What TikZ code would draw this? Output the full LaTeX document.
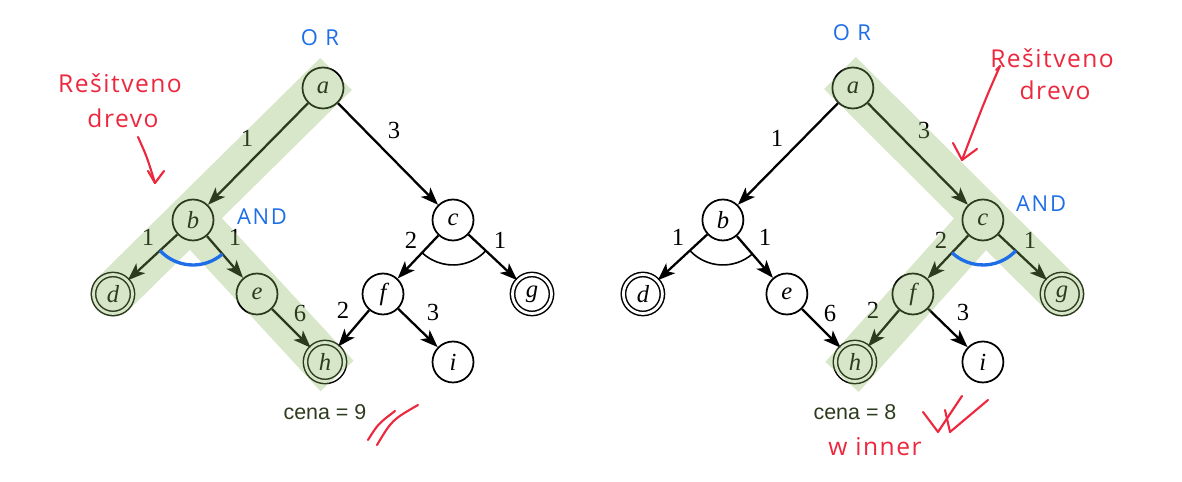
\documentclass[tikz,border=0pt]{standalone}
\usepackage{fontspec}
\setmainfont{Liberation Serif}
\newfontfamily\cenafont{Liberation Sans}
\newfontfamily\handfont{Open Sans}
\usetikzlibrary{arrows.meta,calc}
\definecolor{bandgreen}{RGB}{136,182,91}
\definecolor{penred}{RGB}{236,40,62}
\definecolor{penblue}{RGB}{30,110,232}
\definecolor{olive}{RGB}{45,60,30}

% one AND-OR search tree: nodes, weighted arcs and their costs
\newcommand{\searchtree}{%
  \node[state] (a) at (323,394) {a};
  \node[state] (b) at (193,262) {b};
  \node[state] (c) at (453,262) {c};
  \node[goal]  (d) at (113,188) {d};
  \node[state] (e) at (257,188) {e};
  \node[state] (f) at (383,188) {f};
  \node[goal]  (g) at (532,188) {g};
  \node[goal]  (h) at (325,120) {h};
  \node[state] (i) at (453,120) {i};
  \draw[edge] (a) -- (b);
  \draw[edge] (a) -- (c);
  \draw[edge] (b) -- (d);
  \draw[edge] (b) -- (e);
  \draw[edge] (c) -- (f);
  \draw[edge] (c) -- (g);
  \draw[edge] (e) -- (h);
  \draw[edge] (f) -- (h);
  \draw[edge] (f) -- (i);
  \node[cost] (wab) at (247,344) {1};
  \node[cost] (wac) at (394,352) {3};
  \node[cost] (wbd) at (148,245) {1};
  \node[cost] (wbe) at (235,245) {1};
  \node[cost] (wcf) at (411,242) {2};
  \node[cost] (wcg) at (500,242) {1};
  \node[cost] (weh) at (300,169) {6};
  \node[cost] (wfh) at (343,172) {2};
  \node[cost] (wfi) at (433,170) {3};
}

\begin{document}
\begin{tikzpicture}[x=0.02cm,y=0.02cm,
  state/.style={circle,draw,line width=1pt,minimum size=0.82cm,inner sep=0pt,
    fill=white,font=\fontsize{14}{16}\selectfont\itshape},
  goal/.style={state,double,double distance=1.6pt,line width=0.85pt,minimum size=0.78cm},
  edge/.style={line width=1.3pt,-{Stealth[length=10pt,width=7.5pt,inset=2.6pt]}},
  cost/.style={font=\fontsize{14}{16}\selectfont,inner sep=0pt},
  andarc/.style={line width=0.9pt},
  andmark/.style={line width=1.9pt,penblue},
  band/.style={fill=bandgreen,fill opacity=0.33},
  hand/.style={penred,inner sep=0pt,font=\handfont\fontsize{14}{16}\selectfont\addfontfeature{LetterSpace=6}},
  pen/.style={penred,line width=1.2pt,line cap=round,line join=round},
  bluehand/.style={penblue,inner sep=0pt,font=\handfont\fontsize{12.5}{14}\selectfont\addfontfeature{LetterSpace=8}},
  price/.style={olive,inner sep=0pt,font=\cenafont\fontsize{12.2}{14}\selectfont}
]
\useasboundingbox (0,0) rectangle (1182,482);

% the two copies of the tree
\begin{scope}[name prefix=L-]
  \searchtree
\end{scope}
\begin{scope}[xshift=10.6cm,name prefix=R-]
  \searchtree
\end{scope}

% AND arcs (plain)
\draw[andarc] ($(L-c)+(-133.4:0.9cm)$) arc[start angle=-133.4,end angle=-43.1,radius=0.9cm];
\draw[andarc] ($(R-b)+(-137.2:0.9cm)$) arc[start angle=-137.2,end angle=-49.1,radius=0.9cm];

% solution trees highlighted
\coordinate (L-top) at (336,408);
\coordinate (L-end) at (337,106);
\fill[band]
  ($(L-top)!0.45cm!90:(L-d)$) -- ($(L-d)!0.45cm!-90:(L-top)$)
  arc[start angle=-45.39,end angle=-225.39,radius=0.45cm]
  -- ($(L-top)!0.45cm!-90:(L-d)$) -- cycle
  ($(L-b)!0.45cm!90:(L-end)$) -- ($(L-end)!0.45cm!-90:(L-b)$)
  -- ($(L-end)!0.45cm!90:(L-b)$) -- ($(L-b)!0.45cm!-90:(L-end)$) -- cycle;

\coordinate (R-top) at (840,409);
\coordinate (R-end) at (842,105);
\fill[band]
  ($(R-top)!0.45cm!90:(R-g)$) -- ($(R-g)!0.45cm!-90:(R-top)$)
  arc[start angle=45.13,end angle=-134.87,radius=0.45cm]
  -- ($(R-top)!0.45cm!-90:(R-g)$) -- cycle
  ($(R-c)!0.45cm!90:(R-end)$) -- ($(R-end)!0.45cm!-90:(R-c)$)
  -- ($(R-end)!0.45cm!90:(R-c)$) -- ($(R-c)!0.45cm!-90:(R-end)$) -- cycle;

% AND arcs marked in blue
\draw[andmark] ($(L-b)+(-137.2:0.9cm)$) arc[start angle=-137.2,end angle=-49.1,radius=0.9cm];
\draw[andmark] ($(R-c)+(-133.4:0.9cm)$) arc[start angle=-133.4,end angle=-43.1,radius=0.9cm];

% node types
\node[bluehand] (orL) at (320,444) {O R};
\node[bluehand] (orR) at (852,449) {O R};
\node[bluehand] (andL) at (262,265) {AND};
\node[bluehand] (andR) at (1041,278) {AND};

% total costs
\node[price] (cenaL) at (325,70) {cena = 9};
\node[price] (cenaR) at (855,70) {cena = 8};

% handwritten notes
\node[hand] (notL1) at (120,399) {Rešitveno};
\node[hand] (notL2) at (123,364) {drevo};
\node[hand] (notR1) at (1052,424) {Rešitveno};
\node[hand] (notR2) at (1055,392) {drevo};
\node[hand] (win) at (875,35) {w inner};

\coordinate (pL0) at (138,345);
\coordinate (pL1) at (155,299);
\draw[pen] (pL0) .. controls (147,325) .. (pL1);
\draw[pen] (148,311) -- (pL1) -- (164,311);

\coordinate (pR0) at (1000,416);
\coordinate (pR1) at (962,322);
\draw[pen] (996,412) -- (pR0) .. controls (985,382) .. (pR1);
\draw[pen] (953,339) -- (pR1) -- (977,333);

\draw[pen] (368,42) .. controls (378,58) .. (395,71);
\draw[pen] (377,37) .. controls (392,62) .. (418,77);

\draw[pen] (923,70) -- (938,50) -- (962,86);
\draw[pen] (945,72) -- (950,50) -- (988,82);
\end{tikzpicture}
\end{document}
